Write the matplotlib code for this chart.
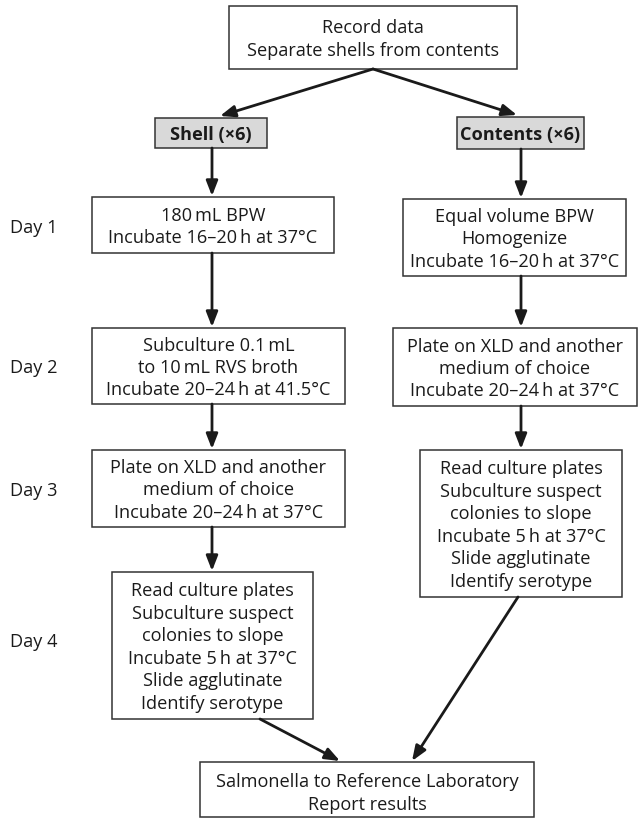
import matplotlib.pyplot as plt
from matplotlib.patches import Rectangle

plt.rcParams['font.family'] = ['Open Sans', 'DejaVu Sans']

# box texts
top_text = "Record data\nSeparate shells from contents"
shell_head = "Shell (\u00d76)"
contents_head = "Contents (\u00d76)"
shell_steps = ["180\u2009mL BPW\nIncubate 16\u201320\u2009h at 37\u00b0C",
               "Subculture 0.1\u2009mL\nto 10\u2009mL RVS broth\nIncubate 20\u201324\u2009h at 41.5\u00b0C",
               "Plate on XLD and another\nmedium of choice\nIncubate 20\u201324\u2009h at 37\u00b0C",
               "Read culture plates\nSubculture suspect\ncolonies to slope\nIncubate 5\u2009h at 37\u00b0C\nSlide agglutinate\nIdentify serotype"]
contents_steps = ["Equal volume BPW\nHomogenize\nIncubate 16\u201320\u2009h at 37\u00b0C",
                  "Plate on XLD and another\nmedium of choice\nIncubate 20\u201324\u2009h at 37\u00b0C",
                  "Read culture plates\nSubculture suspect\ncolonies to slope\nIncubate 5\u2009h at 37\u00b0C\nSlide agglutinate\nIdentify serotype"]
final_text = "Salmonella to Reference Laboratory\nReport results"
day_labels = ["Day 1", "Day 2", "Day 3", "Day 4"]

# layout in pixels: (x0, y0, x1, y1)
top_box = (229, 7, 517, 70)
shell_box = (155, 119, 267, 149)
contents_box = (457, 118, 584, 150)
shell_boxes = [(92, 198, 334, 254), (92, 329, 345, 405), (92, 451, 345, 528), (112, 573, 313, 720)]
contents_boxes = [(403, 200, 626, 277), (393, 329, 637, 407), (420, 451, 622, 598)]
final_box = (200, 763, 534, 818)
day_y = [228, 368, 491, 642]

fig = plt.figure(figsize=(6.38, 8.2), dpi=100)
ax = fig.add_axes([0, 0, 1, 1])
ax.set_xlim(0, 638)
ax.set_ylim(820, 0)
ax.axis('off')

FS = 13.1
edge = '#333333'


def box(b, text, fc='white', bold=False, ls=1.32, dy=1):
    x0, y0, x1, y1 = b
    ax.add_patch(Rectangle((x0, y0), x1 - x0, y1 - y0, fc=fc, ec=edge, lw=1.1))
    ax.text((x0 + x1) / 2, (y0 + y1) / 2 + dy, text, ha='center', va='center',
            fontsize=FS, linespacing=ls, color='#1a1a1a',
            fontweight='bold' if bold else 'normal')


def arrow(x0, y0, x1, y1):
    ax.annotate('', xy=(x1, y1), xytext=(x0, y0),
                arrowprops=dict(arrowstyle='-|>,head_length=0.9,head_width=0.35',
                                color='#1a1a1a', lw=2, shrinkA=0, shrinkB=0))


box(top_box, top_text, dy=1)
box(shell_box, shell_head, fc='#d9d9d9', bold=True)
box(contents_box, contents_head, fc='#d9d9d9', bold=True)
for b, t in zip(shell_boxes, shell_steps):
    box(b, t)
for b, t in zip(contents_boxes, contents_steps):
    box(b, t)
box(final_box, final_text, ls=1.38, dy=3)

for y, d in zip(day_y, day_labels):
    ax.text(10, y, d, ha='left', va='center', fontsize=FS, color='#1a1a1a')

# arrows
arrow(373, 70, 220, 117)
arrow(373, 70, 517, 116)
arrow(212, 149, 212, 197)
arrow(521, 150, 521, 199)
arrow(212, 254, 212, 328)
arrow(521, 277, 521, 328)
arrow(212, 405, 212, 450)
arrow(521, 407, 521, 450)
arrow(212, 528, 212, 572)
arrow(260, 720, 340, 762)
arrow(518, 598, 412, 762)

fig.savefig('out.png', dpi=100)
